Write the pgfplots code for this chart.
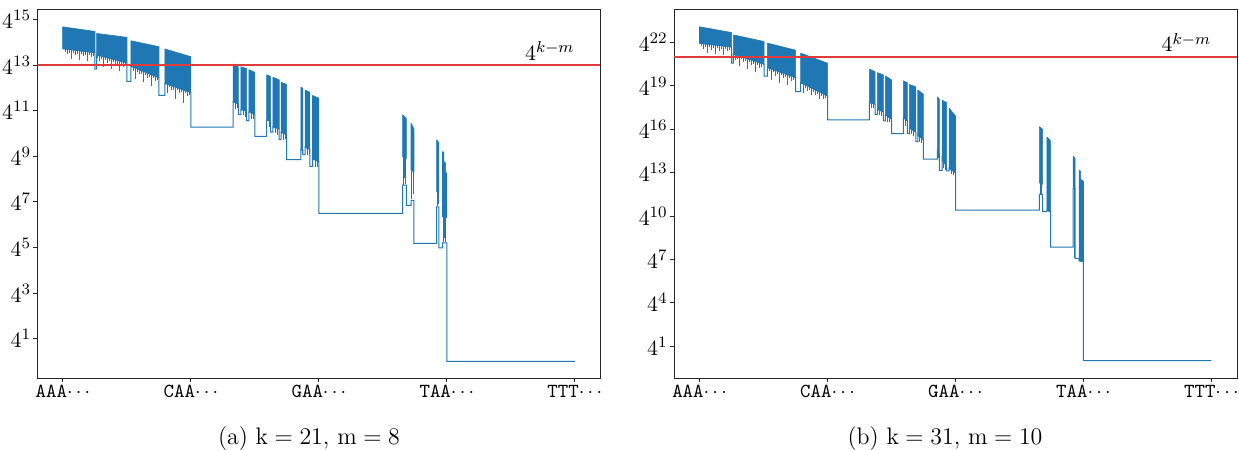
\documentclass[border=0pt]{standalone}
\usepackage{pgfplots}
\pgfplotsset{compat=1.18}
\definecolor{tabblue}{HTML}{1F77B4}
\definecolor{tabred}{HTML}{E03C3C}
\pgfplotsset{
  panel/.style={
    scale only axis, width=281.5bp, height=184bp,
    xmin=-0.2, xmax=4.2,
    axis line style={black!85, line width=0.5bp},
    tick style={black!85, line width=0.5bp},
    tick align=outside, major tick length=2bp, tick pos=left,
    xtick={0,1,2,3,4},
    xticklabels={\texttt{AAA}$\cdots$,\texttt{CAA}$\cdots$,\texttt{GAA}$\cdots$,\texttt{TAA}$\cdots$,\texttt{TTT}$\cdots$},
    xticklabel style={font=\fontsize{10}{12}\selectfont, inner sep=1.5bp},
    yticklabel style={font=\fontsize{11}{13}\selectfont, inner xsep=1bp},
  },
  blk/.style={fill=tabblue, draw=tabblue, line width=0.3bp, forget plot},
  skel/.style={tabblue, line width=0.5bp, forget plot},
  spk/.style={draw=none, forget plot, error bars/.cd, y dir=minus, y explicit, error mark=none,
    error bar style={draw=tabblue, line width=0.35bp}},
  redline/.style={draw=tabred, line width=0.85bp, forget plot},
}
\begin{document}
\begin{tikzpicture}
\path[use as bounding box] (-18.7bp,-36bp) rectangle (600.8bp,189bp);
% ---------------- panel (a) ----------------
\begin{axis}[panel, at={(0,0)}, anchor=south west,
  ymin=-0.73, ymax=15.42,
  ytick={1,3,5,7,9,11,13,15},
  yticklabels={$4^{1}$,$4^{3}$,$4^{5}$,$4^{7}$,$4^{9}$,$4^{11}$,$4^{13}$,$4^{15}$}]
\addplot[skel] coordinates {(0,14.68) (0,13.72) (0.25,13.55) (0.25,12.83) (0.263,12.83) (0.263,13.45) (0.5,13.1) (0.5,12.29) (0.531,12.29) (0.531,12.95) (0.75,12.45) (0.75,11.67) (0.797,11.67) (0.797,12.2) (1.0,11.8) (1.0,10.28) (1.33,10.28) (1.33,11.4) (1.37,11.3) (1.37,10.83) (1.39,10.83) (1.39,11.05) (1.435,11.0) (1.435,10.57) (1.453,10.57) (1.453,10.95) (1.5,10.85) (1.5,9.87) (1.592,9.87) (1.592,10.6) (1.623,10.55) (1.623,10.06) (1.64,10.06) (1.64,10.3) (1.69,10.2) (1.69,9.73) (1.705,9.73) (1.705,10.05) (1.748,9.95) (1.748,8.85) (1.86,8.85) (1.86,9.3) (1.875,9.25) (1.875,9.07) (1.893,9.07) (1.893,9.4) (1.93,9.3) (1.93,8.56) (1.95,8.56) (1.95,8.9) (2.0,8.75) (2.0,6.49) (2.654,6.49) (2.654,7.73) (2.683,7.73) (2.683,6.85) (2.72,6.85) (2.72,7.07) (2.743,7.07) (2.743,5.18) (2.92,5.18) (2.92,6.78) (2.937,6.78) (2.937,4.98) (2.966,4.98) (2.966,5.2) (3.0,5.2) (3.0,0) (4.0,0)};
\addplot[blk] coordinates {(0,14.68) (0.25,14.48) (0.25,13.55) (0,13.72) (0,14.68)};
\addplot[blk] coordinates {(0.263,14.39) (0.5,14.22) (0.5,13.1) (0.263,13.45) (0.263,14.39)};
\addplot[blk] coordinates {(0.531,14.07) (0.75,13.81) (0.75,12.45) (0.531,12.95) (0.531,14.07)};
\addplot[blk] coordinates {(0.797,13.71) (1.0,13.37) (1.0,11.8) (0.797,12.2) (0.797,13.71)};
\addplot[blk] coordinates {(1.33,13.05) (1.37,12.92) (1.37,11.3) (1.33,11.4) (1.33,13.05)};
\addplot[blk] coordinates {(1.39,12.93) (1.435,12.85) (1.435,11.0) (1.39,11.05) (1.39,12.93)};
\addplot[blk] coordinates {(1.453,12.80) (1.5,12.68) (1.5,10.85) (1.453,10.95) (1.453,12.80)};
\addplot[blk] coordinates {(1.592,12.58) (1.623,12.5) (1.623,10.55) (1.592,10.6) (1.592,12.58)};
\addplot[blk] coordinates {(1.64,12.47) (1.69,12.35) (1.69,10.2) (1.64,10.3) (1.64,12.47)};
\addplot[blk] coordinates {(1.705,12.25) (1.748,12.15) (1.748,9.95) (1.705,10.05) (1.705,12.25)};
\addplot[blk] coordinates {(1.86,12.03) (1.875,11.98) (1.875,9.25) (1.86,9.3) (1.86,12.03)};
\addplot[blk] coordinates {(1.893,11.91) (1.93,11.8) (1.93,9.3) (1.893,9.4) (1.893,11.91)};
\addplot[blk] coordinates {(1.95,11.67) (2.0,11.55) (2.0,8.75) (1.95,8.9) (1.95,11.67)};
\addplot[blk] coordinates {(2.654,10.83) (2.683,10.65) (2.683,8.9) (2.654,8.97) (2.654,10.83)};
\addplot[blk] coordinates {(2.72,10.45) (2.743,10.2) (2.743,8.3) (2.72,8.4) (2.72,10.45)};
\addplot[blk] coordinates {(2.92,9.73) (2.937,9.6) (2.937,7.4) (2.92,7.45) (2.92,9.73)};
\addplot[blk] coordinates {(2.966,9.21) (2.976,9.18) (2.976,8.78) (2.99,8.7) (2.99,8.3) (3.0,8.25) (3.0,6.3) (2.966,6.35) (2.966,9.21)};
\addplot[spk] table[x index=0, y index=1, y error index=2] {
0.0156 13.71 0.12
0.0313 13.70 0.22
0.0469 13.69 0.15
0.0625 13.68 0.40
0.0781 13.67 0.12
0.0938 13.66 0.22
0.1094 13.65 0.15
0.1250 13.64 0.40
0.1406 13.62 0.12
0.1563 13.61 0.22
0.1719 13.60 0.15
0.1875 13.59 0.40
0.2031 13.58 0.12
0.2188 13.57 0.22
0.2344 13.56 0.15
0.2656 13.45 0.12
0.2813 13.42 0.22
0.2969 13.40 0.15
0.3125 13.38 0.45
0.3281 13.35 0.12
0.3438 13.33 0.22
0.3594 13.31 0.15
0.3750 13.28 0.45
0.3906 13.26 0.12
0.4063 13.24 0.22
0.4219 13.21 0.15
0.4375 13.19 0.45
0.4531 13.17 0.12
0.4688 13.14 0.22
0.4844 13.12 0.15
0.5469 12.91 0.15
0.5625 12.88 0.50
0.5781 12.84 0.12
0.5938 12.81 0.22
0.6094 12.77 0.15
0.6250 12.74 0.50
0.6406 12.70 0.12
0.6563 12.66 0.22
0.6719 12.63 0.15
0.6875 12.59 0.50
0.7031 12.56 0.12
0.7188 12.52 0.22
0.7344 12.48 0.15
0.8125 12.17 0.40
0.8281 12.14 0.12
0.8438 12.11 0.22
0.8594 12.08 0.15
0.8750 12.05 0.55
0.8906 12.02 0.12
0.9063 11.99 0.22
0.9219 11.95 0.15
0.9375 11.92 0.60
0.9531 11.89 0.12
0.9688 11.86 0.22
0.9844 11.83 0.15
1.3438 11.38 0.30
1.3594 11.33 0.20
1.4063 11.04 0.25
1.4219 11.02 0.30
1.4688 10.92 0.30
1.4844 10.89 0.25
1.6094 10.58 0.30
1.6563 10.27 0.25
1.6719 10.24 0.30
1.7188 10.03 0.30
1.7344 10.00 0.25
1.8672 9.28 0.20
1.9063 9.37 0.30
1.9219 9.33 0.25
1.9688 8.85 0.30
1.9844 8.80 0.25
2.6600 8.95 1.20
2.6670 8.94 0.90
2.6750 8.92 1.15
2.7260 8.38 1.25
2.7350 8.34 1.00
2.9250 7.44 0.60
2.9320 7.42 0.50
2.9720 6.34 1.10
2.9820 6.32 0.90
2.9920 6.31 1.05
};
\addplot[redline] coordinates {(-0.2,13) (4.2,13)};
\node[anchor=base east, inner sep=0pt, yshift=2.5bp, font=\fontsize{11}{13}\selectfont] at (axis cs:4,13) {$4^{k-m}$};
\end{axis}
% ---------------- panel (b) ----------------
\begin{axis}[panel, at={(318.3bp,0)}, anchor=south west,
  ymin=-1.2, ymax=24.25,
  ytick={1,4,7,10,13,16,19,22},
  yticklabels={$4^{1}$,$4^{4}$,$4^{7}$,$4^{10}$,$4^{13}$,$4^{16}$,$4^{19}$,$4^{22}$}]
\addplot[skel] coordinates {(0,23.09) (0,21.95) (0.25,21.7) (0.25,20.57) (0.264,20.57) (0.264,21.2) (0.504,20.5) (0.504,19.67) (0.53,19.67) (0.53,20.27) (0.75,19.58) (0.75,18.6) (0.79,18.6) (0.79,19.23) (1.0,18.3) (1.0,16.65) (1.327,16.65) (1.327,17.85) (1.371,17.75) (1.371,17.04) (1.389,17.04) (1.389,17.39) (1.436,17.2) (1.436,16.58) (1.452,16.58) (1.452,17.0) (1.5,16.7) (1.5,15.7) (1.592,15.7) (1.592,16.8) (1.623,16.6) (1.623,15.7) (1.64,15.7) (1.64,16.1) (1.69,15.8) (1.69,15.14) (1.705,15.14) (1.705,15.6) (1.748,15.3) (1.748,13.93) (1.858,13.93) (1.858,14.5) (1.873,14.3) (1.873,13.16) (1.895,13.16) (1.895,14.0) (1.93,13.4) (1.93,13.12) (1.95,13.12) (1.95,13.3) (2.0,13.0) (2.0,10.41) (2.655,10.41) (2.655,11.5) (2.681,11.5) (2.681,10.3) (2.715,10.3) (2.715,10.4) (2.743,10.3) (2.743,7.85) (2.92,7.85) (2.92,11.9) (2.934,11.9) (2.934,7.07) (2.967,7.07) (2.967,6.9) (3.0,6.85) (3.0,0) (4.0,0)};
\addplot[blk] coordinates {(0,23.09) (0.25,22.69) (0.25,21.7) (0,21.95) (0,23.09)};
\addplot[blk] coordinates {(0.264,22.53) (0.504,22.07) (0.504,20.5) (0.264,21.2) (0.264,22.53)};
\addplot[blk] coordinates {(0.53,21.96) (0.75,21.47) (0.75,19.58) (0.53,20.27) (0.53,21.96)};
\addplot[blk] coordinates {(0.79,21.27) (1.0,20.57) (1.0,18.3) (0.79,19.23) (0.79,21.27)};
\addplot[blk] coordinates {(1.327,20.16) (1.371,19.99) (1.371,17.75) (1.327,17.85) (1.327,20.16)};
\addplot[blk] coordinates {(1.389,19.92) (1.436,19.76) (1.436,17.2) (1.389,17.39) (1.389,19.92)};
\addplot[blk] coordinates {(1.452,19.69) (1.5,19.42) (1.5,16.7) (1.452,17.0) (1.452,19.69)};
\addplot[blk] coordinates {(1.592,19.35) (1.623,19.23) (1.623,16.6) (1.592,16.8) (1.592,19.35)};
\addplot[blk] coordinates {(1.64,19.1) (1.69,18.93) (1.69,15.8) (1.64,16.1) (1.64,19.1)};
\addplot[blk] coordinates {(1.705,18.72) (1.748,18.43) (1.748,15.3) (1.705,15.6) (1.705,18.72)};
\addplot[blk] coordinates {(1.858,18.24) (1.873,18.1) (1.873,14.3) (1.858,14.5) (1.858,18.24)};
\addplot[blk] coordinates {(1.895,18.01) (1.93,17.85) (1.93,13.4) (1.895,14.0) (1.895,18.01)};
\addplot[blk] coordinates {(1.95,17.46) (2.0,16.92) (2.0,13.0) (1.95,13.3) (1.95,17.46)};
\addplot[blk] coordinates {(2.655,16.18) (2.681,16.0) (2.681,12.2) (2.655,12.3) (2.655,16.18)};
\addplot[blk] coordinates {(2.715,15.47) (2.743,15.2) (2.743,10.3) (2.715,10.4) (2.715,15.47)};
\addplot[blk] coordinates {(2.92,14.15) (2.934,14.0) (2.934,11.9) (2.92,12.0) (2.92,14.15)};
\addplot[blk] coordinates {(2.967,13.16) (2.978,13.1) (2.978,12.54) (3.0,12.4) (3.0,6.85) (2.967,6.9) (2.967,13.16)};
\addplot[spk] table[x index=0, y index=1, y error index=2] {
0.0156 21.93 0.18
0.0313 21.92 0.35
0.0469 21.90 0.22
0.0625 21.89 0.60
0.0781 21.87 0.18
0.0938 21.86 0.35
0.1094 21.84 0.22
0.1250 21.83 0.65
0.1406 21.81 0.18
0.1563 21.79 0.35
0.1719 21.78 0.22
0.1875 21.76 0.65
0.2031 21.75 0.18
0.2188 21.73 0.35
0.2344 21.72 0.22
0.2656 21.20 0.18
0.2813 21.15 0.35
0.2969 21.10 0.22
0.3125 21.06 0.65
0.3281 21.01 0.18
0.3438 20.97 0.35
0.3594 20.92 0.22
0.3750 20.88 0.70
0.3906 20.83 0.18
0.4063 20.79 0.35
0.4219 20.74 0.22
0.4375 20.69 0.70
0.4531 20.65 0.18
0.4688 20.60 0.35
0.4844 20.56 0.22
0.5469 20.22 0.22
0.5625 20.17 0.75
0.5781 20.12 0.18
0.5938 20.07 0.35
0.6094 20.02 0.22
0.6250 19.97 0.75
0.6406 19.92 0.18
0.6563 19.87 0.35
0.6719 19.83 0.22
0.6875 19.78 0.75
0.7031 19.73 0.18
0.7188 19.68 0.35
0.7344 19.63 0.22
0.8125 19.13 0.60
0.8281 19.06 0.18
0.8438 18.99 0.35
0.8594 18.92 0.22
0.8750 18.85 0.45
0.8906 18.78 0.18
0.9063 18.71 0.35
0.9219 18.64 0.22
0.9375 18.57 0.50
0.9531 18.50 0.18
0.9688 18.44 0.35
0.9844 18.37 0.22
1.3438 17.81 0.35
1.3594 17.78 0.30
1.4063 17.32 0.30
1.4219 17.25 0.35
1.4688 16.90 0.40
1.4844 16.80 0.30
1.6094 16.69 0.45
1.6563 16.00 0.35
1.6719 15.91 0.40
1.7188 15.50 0.40
1.7344 15.40 0.35
1.8672 14.38 0.35
1.9063 13.80 0.50
1.9219 13.55 0.35
1.9688 13.19 0.30
1.9844 13.10 0.25
2.6620 12.28 0.75
2.6720 12.25 0.70
2.9250 11.95 4.85
2.9300 11.92 2.50
};
\addplot[redline] coordinates {(-0.2,21) (4.2,21)};
\node[anchor=base east, inner sep=0pt, yshift=2.5bp, font=\fontsize{11}{13}\selectfont] at (axis cs:4,21) {$4^{k-m}$};
\end{axis}
\node[font=\fontsize{12}{14}\selectfont] at (135.8bp,-30.5bp) {(a) $\mathrm{k}=21$, $\mathrm{m}=8$};
\node[font=\fontsize{12}{14}\selectfont] at (453.8bp,-30.5bp) {(b) $\mathrm{k}=31$, $\mathrm{m}=10$};
\end{tikzpicture}
\end{document}
